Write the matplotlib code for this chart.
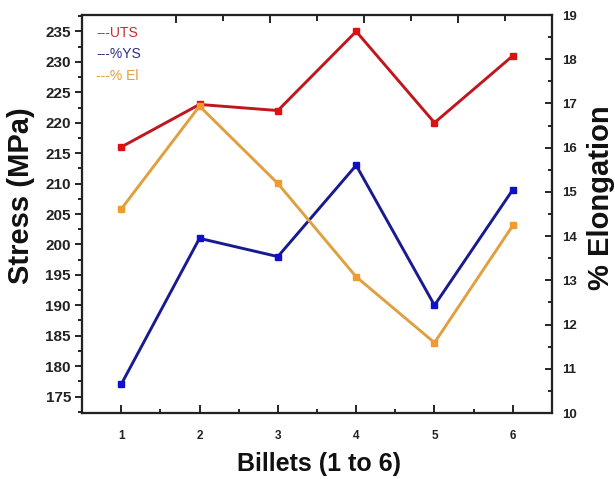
import matplotlib
matplotlib.use("Agg")
import matplotlib.pyplot as plt
from matplotlib.ticker import MultipleLocator, FixedLocator

plt.rcParams['font.family'] = ['Liberation Sans', 'DejaVu Sans']

billets = [1, 2, 3, 4, 5, 6]
uts = [216, 223, 222, 235, 220, 231]
ys = [177, 201, 198, 213, 190, 209]
elong = [14.61, 16.94, 15.19, 13.08, 11.59, 14.24]

stress_ticks = [175, 180, 185, 190, 195, 200, 205, 210, 215, 220, 225, 230, 235]
elong_ticks = [10, 11, 12, 13, 14, 15, 16, 17, 18, 19]

c_uts_line, c_uts_mk = '#c0161e', '#dd1111'
c_ys_line, c_ys_mk = '#1a1a90', '#1010cc'
c_el_line, c_el_mk = '#e0a040', '#f09a30'

fig = plt.figure(figsize=(6.15, 4.79), dpi=100)
ax = fig.add_axes([82/615, 1-413/479, 470/615, 398/479])

ax.plot(billets, uts, '-', color=c_uts_line, lw=2.1, marker='s', ms=5,
        mfc=c_uts_mk, mec=c_uts_mk, zorder=3)
ax.plot(billets, ys, '-', color=c_ys_line, lw=2.1, marker='s', ms=5,
        mfc=c_ys_mk, mec=c_ys_mk, zorder=3)

ax.set_xlim(0.5, 6.5)
ax.set_ylim(172.3, 237.7)
ax.set_xticks(billets)
ax.xaxis.set_minor_locator(MultipleLocator(0.5))
ax.set_yticks(stress_ticks)
ax.yaxis.set_minor_locator(MultipleLocator(2.5))

ax.tick_params(axis='x', which='major', direction='in', length=6, width=1.2,
               labelsize=8.5, pad=12, top=False)
ax.tick_params(axis='x', which='minor', direction='in', length=3, width=1.2, top=False)
ax.tick_params(axis='y', which='major', direction='out', length=5, width=1.2,
               labelsize=11, pad=3)
ax.tick_params(axis='y', which='minor', direction='out', length=3, width=1.2)
for lab in ax.get_xticklabels() + ax.get_yticklabels():
    lab.set_fontweight('bold')
    lab.set_color('#222222')

ax2 = ax.twinx()
ax2.plot(billets, elong, '-', color=c_el_line, lw=2.1, marker='s', ms=5,
         mfc=c_el_mk, mec=c_el_mk, zorder=3)
ax2.set_ylim(10, 19)
ax2.set_yticks(elong_ticks)
ax2.yaxis.set_minor_locator(MultipleLocator(0.5))
ax2.tick_params(axis='y', which='major', direction='in', length=5, width=1.2,
                labelsize=9.5, pad=7)
ax2.tick_params(axis='y', which='minor', direction='in', length=3, width=1.2)
for lab in ax2.get_yticklabels():
    lab.set_fontweight('bold')
    lab.set_color('#222222')

# top axis ticks (separate scale, no labels)
ax3 = ax.twiny()
ax3.set_xlim(0, 1)
ax3.xaxis.set_major_locator(FixedLocator([0.2, 0.4, 0.6, 0.8]))
ax3.xaxis.set_minor_locator(FixedLocator([0.3, 0.5, 0.7, 0.9]))
ax3.tick_params(axis='x', which='major', direction='in', length=6, width=1.2,
                labeltop=False)
ax3.tick_params(axis='x', which='minor', direction='in', length=4, width=1.2)

for a in (ax, ax2, ax3):
    for s in a.spines.values():
        s.set_linewidth(1.5)
        s.set_color('#222222')

# legend-like texts
ax3.text(0.03, 0.955, '---UTS', transform=ax.transAxes, color='#c03030',
         fontsize=10, va='center', ha='left')
ax3.text(0.03, 0.902, '---%YS', transform=ax.transAxes, color='#303080',
         fontsize=10, va='center', ha='left')
ax3.text(0.03, 0.847, '---% El', transform=ax.transAxes, color='#e0a040',
         fontsize=10, va='center', ha='left')

fig.text(21/615, 1-196/479, 'Stress (MPa)', rotation=90, ha='center', va='center',
         fontsize=21, fontweight='bold', color='#111111')
fig.text(601/615, 1-198/479, '% Elongation', rotation=90, ha='center', va='center',
         fontsize=21, fontweight='bold', color='#111111')
fig.text(319/615, 1-464/479, 'Billets (1 to 6)', ha='center', va='center',
         fontsize=18, fontweight='bold', color='#111111')

fig.savefig('out.png', dpi=100)
